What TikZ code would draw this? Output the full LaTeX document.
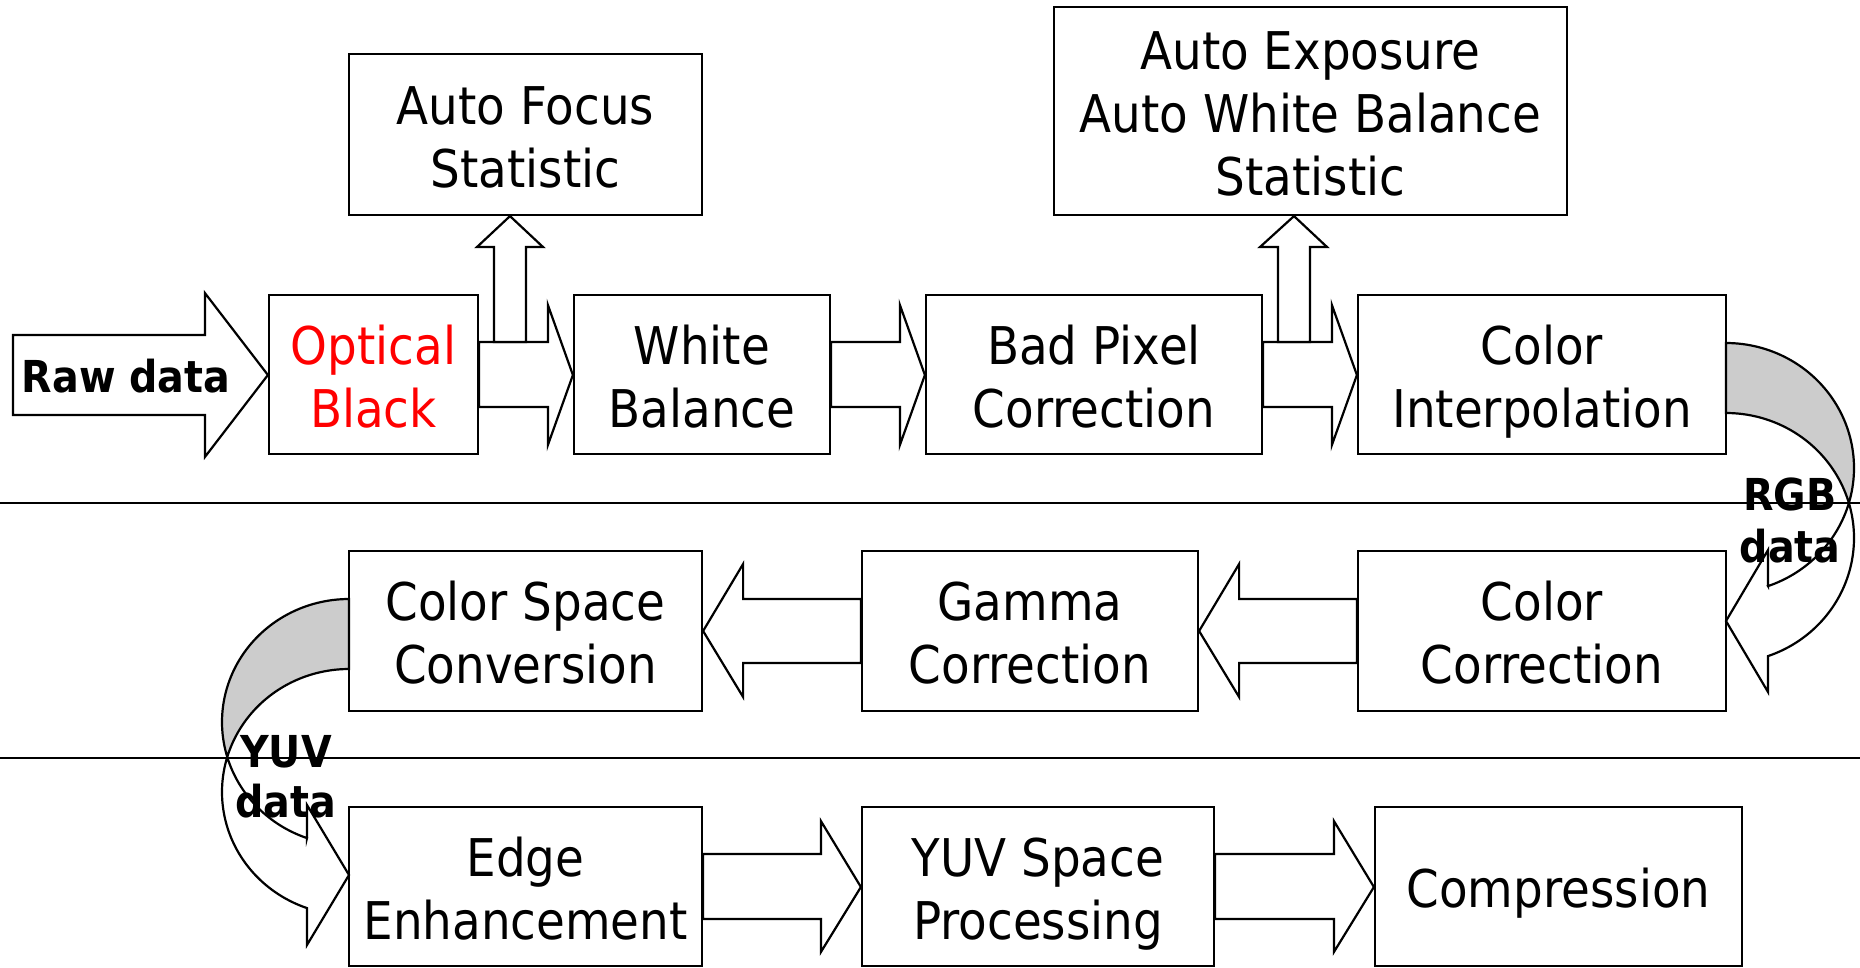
\documentclass[tikz,border=0pt]{standalone}
\usepackage{fontspec}
\setmainfont[FakeStretch=0.9]{DejaVu Sans}
\usetikzlibrary{calc}
% lines placed at fixed baselines relative to the node centre
\newcommand\fixline[2]{\makebox[0pt]{\raisebox{#1}[0pt][0pt]{#2}}}
\newcommand\oneL[1]{\fixline{-21pt}{#1}}
\newcommand\twoL[2]{\fixline{10.5pt}{#1}\fixline{-52.5pt}{#2}}
\newcommand\threeL[3]{\fixline{42pt}{#1}\fixline{-21pt}{#2}\fixline{-84pt}{#3}}
\newcommand\pairL[3]{\fixline{#1}{#2}\fixline{-#1}{#3}}
\begin{document}
\begin{tikzpicture}[x=1pt,y=-1pt,
  line width=2.2pt, line join=miter,
  box/.style={draw, fill=white, inner sep=0pt,
     font=\fontsize{52}{63}\selectfont},
  lbl/.style={inner sep=0pt, font=\fontsize{44}{51}\selectfont\bfseries},
  blk/.style={draw, fill=white},
  back/.style={draw, fill=black!20},
]
\useasboundingbox (0,0) rectangle (1860,967);

% separator lines
\draw (0,503) coordinate (s1a) -- (1860,503) coordinate (s1b);
\draw (0,758) coordinate (s2a) -- (1860,758) coordinate (s2b);

% boxes
\node[box, text=red, minimum width=209, minimum height=159] (ob) at (373.5,374.5) {\twoL{Optical}{Black}};
\node[box, minimum width=353, minimum height=161] (af) at (525.5,134.5) {\twoL{Auto Focus}{Statistic}};
\node[box, minimum width=256, minimum height=159] (wb) at (702,374.5) {\twoL{White}{Balance}};
\node[box, minimum width=336, minimum height=159] (bp) at (1094,374.5) {\twoL{Bad Pixel}{Correction}};
\node[box, minimum width=513, minimum height=208] (ae) at (1310.5,111) {\threeL{Auto Exposure}{Auto White Balance}{Statistic}};
\node[box, minimum width=368, minimum height=159] (ci) at (1542,374.5) {\twoL{Color}{Interpolation}};
\node[box, minimum width=368, minimum height=160] (cc) at (1542,631) {\twoL{Color}{Correction}};
\node[box, minimum width=336, minimum height=160] (gc) at (1030,631) {\twoL{Gamma}{Correction}};
\node[box, minimum width=353, minimum height=160] (csc) at (525.5,631) {\twoL{Color Space}{Conversion}};
\node[box, minimum width=353, minimum height=159] (ee) at (525.5,886.5) {\twoL{Edge}{Enhancement}};
\node[box, minimum width=352, minimum height=159] (yuv) at (1038,886.5) {\twoL{YUV Space}{Processing}};
\node[box, minimum width=367, minimum height=159] (comp) at (1558.5,886.5) {\oneL{Compression}};

% raw data input arrow
\coordinate (rawtail) at (13,375);
\draw[blk] let \p1=(rawtail), \p2=(ob.west) in
  (\x1,335) -- (\x2-63,335) -- (\x2-63,293) -- (\x2,375) -- (\x2-63,457) -- (\x2-63,415) -- (\x1,415) -- cycle;

% row 1 block arrows (right)
\foreach \a/\b in {ob/wb, wb/bp, bp/ci}{
  \draw[blk] let \p1=(\a.east), \p2=(\b.west) in
    (\x1,342) -- (\x2-25,342) -- (\x2-25,305) -- (\x2,375) -- (\x2-25,445) -- (\x2-25,407) -- (\x1,407) -- cycle;
}
% up arrows
\draw[blk] let \p1=(af.south) in
  (494,342) -- (494,247) -- (477,247) -- (510,\y1) -- (543,247) -- (526,247) -- (526,342) -- cycle;
\draw[blk] let \p1=(ae.south) in
  (1278,342) -- (1278,247) -- (1260,247) -- (1294,\y1) -- (1327,247) -- (1310,247) -- (1310,342) -- cycle;

% row 2 block arrows (left)
\foreach \a/\b in {cc/gc, gc/csc}{
  \draw[blk] let \p1=(\a.west), \p2=(\b.east) in
    (\x1,599) -- (\x2+40,599) -- (\x2+40,564) -- (\x2,631) -- (\x2+40,697) -- (\x2+40,663) -- (\x1,663) -- cycle;
}
% row 3 block arrows (right)
\foreach \a/\b in {ee/yuv, yuv/comp}{
  \draw[blk] let \p1=(\a.east), \p2=(\b.west) in
    (\x1,854) -- (\x2-40,854) -- (\x2-40,821) -- (\x2,887) -- (\x2-40,952) -- (\x2-40,919) -- (\x1,919) -- cycle;
}

% curved arrow RGB (right side)
\draw[back] plot[domain=-90:16.26, samples=60] ({1726+128*cos(\x)},{468+125*sin(\x)})
  -- plot[domain=-16.26:-90, samples=60] ({1726+128*cos(\x)},{538+125*sin(\x)}) -- cycle;
\draw[blk] plot[domain=-16.26:70.85, samples=60] ({1726+128*cos(\x)},{538+125*sin(\x)})
  -- (1768,692) -- (1726,621) -- (1768,550) -- (1768,586.1)
  -- plot[domain=70.85:16.26, samples=60] ({1726+128*cos(\x)},{468+125*sin(\x)}) -- cycle;

% curved arrow YUV (left side)
\draw[back] plot[domain=-90:16.53, samples=60] ({349-127*cos(\x)},{722+123*sin(\x)})
  -- plot[domain=-16.53:-90, samples=60] ({349-127*cos(\x)},{792+123*sin(\x)}) -- cycle;
\draw[blk] plot[domain=-16.53:70.69, samples=60] ({349-127*cos(\x)},{792+123*sin(\x)})
  -- (307,945) -- (349,875) -- (307,805) -- (307,838.1)
  -- plot[domain=70.69:16.53, samples=60] ({349-127*cos(\x)},{722+123*sin(\x)}) -- cycle;

% labels
\node[lbl] (raw) at (126,392) {\fixline{0pt}{Raw data}};
\node[lbl] (rgb) at (1790,536) {\pairL{26pt}{RGB}{data}};
\node[lbl] (yuvd) at (286,792) {\pairL{25pt}{YUV}{data}};
\end{tikzpicture}
\end{document}
